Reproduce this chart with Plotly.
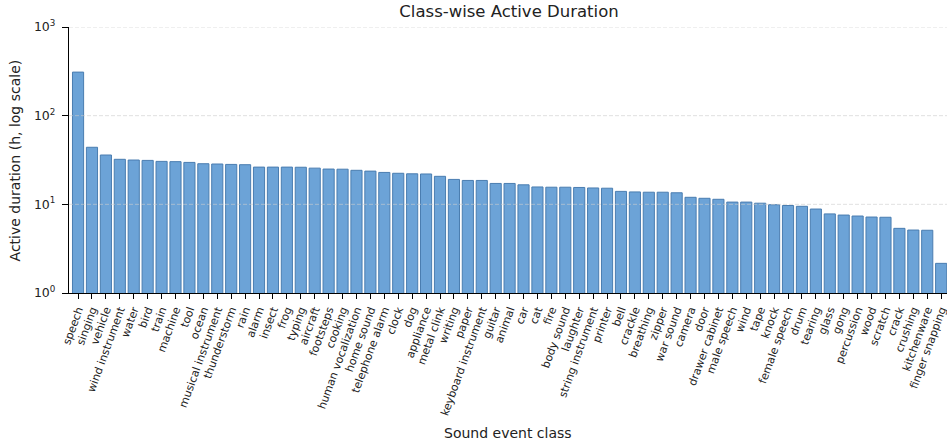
import plotly.graph_objects as go

# Sound event classes, sorted by total active duration
classes = [
    "speech", "singing", "vehicle", "wind instrument", "water", "bird", "train",
    "machine", "tool", "ocean", "musical instrument", "thunderstorm", "rain",
    "alarm", "insect", "frog", "typing", "aircraft", "footsteps", "cooking",
    "human vocalization", "home sound", "telephone alarm", "clock", "dog",
    "appliance", "metal clink", "writing", "paper", "keyboard instrument",
    "guitar", "animal", "car", "cat", "fire", "body sound", "laughter",
    "string instrument", "printer", "bell", "crackle", "breathing", "zipper",
    "war sound", "camera", "door", "drawer cabinet", "male speech", "wind",
    "tape", "knock", "female speech", "drum", "tearing", "glass", "gong",
    "percussion", "wood", "scratch", "crack", "crushing", "kitchenware",
    "finger snapping",
]

# Active duration per class, in hours
hours = [
    310, 44, 36, 32.2, 31.6, 31.3, 30.5, 30.3, 29.7, 28.7, 28.5, 28.2, 28.0,
    26.3, 26.3, 26.3, 26.2, 25.6, 25.0, 24.9, 24.2, 23.7, 22.9, 22.4, 22.1,
    22.0, 20.7, 19.1, 18.6, 18.6, 17.2, 17.2, 16.6, 15.7, 15.6, 15.6, 15.5,
    15.3, 15.2, 14.0, 13.8, 13.7, 13.7, 13.5, 12.0, 11.7, 11.4, 10.6, 10.6,
    10.3, 9.9, 9.7, 9.5, 8.85, 7.8, 7.57, 7.38, 7.19, 7.15, 5.36, 5.13, 5.1,
    2.16,
]

y_tick_vals = [1, 10, 100, 1000]
y_tick_text = ["10<sup>0</sup>", "10<sup>1</sup>", "10<sup>2</sup>", "10<sup>3</sup>"]

FONT = "DejaVu Sans"
TEXT = "#222222"

fig = go.Figure(
    go.Bar(
        x=classes,
        y=hours,
        width=0.8,
        marker=dict(color="#6ca3d7", line=dict(color="#4a7db0", width=1)),
    )
)

# dashed decade gridlines drawn on top of the bars
for v in y_tick_vals[1:]:
    fig.add_shape(
        type="line", layer="above",
        xref="paper", x0=0, x1=1,
        yref="y", y0=v, y1=v,
        line=dict(color="rgba(205,205,205,0.6)", width=1, dash="4px,2px"),
    )

fig.update_layout(
    width=947,
    height=445,
    margin=dict(l=69, r=0, t=27, b=152),
    paper_bgcolor="white",
    plot_bgcolor="white",
    showlegend=False,
    font=dict(family=FONT, color=TEXT),
    title=dict(
        text="Class-wise Active Duration",
        x=0.5375, xanchor="center",
        y=0.975, yanchor="middle",
        font=dict(family=FONT, size=16.5, color=TEXT),
    ),
    bargap=0.2,
)

fig.update_xaxes(
    type="category",
    range=[-0.65, 62.42],
    showline=True, linecolor="black", linewidth=1.2,
    ticks="outside", ticklen=5, tickwidth=1.2, tickcolor="black",
    tickangle=-70,
    tickfont=dict(family=FONT, size=11, color=TEXT),
    showgrid=False,
    automargin=False,
)

fig.update_yaxes(
    type="log",
    range=[0, 3],
    tickvals=y_tick_vals,
    ticktext=y_tick_text,
    showline=True, linecolor="black", linewidth=1.2,
    ticks="outside", ticklen=6, tickwidth=1.2, tickcolor="black",
    ticklabelstandoff=4,
    tickfont=dict(family=FONT, size=12.5, color=TEXT),
    showgrid=False,
    zeroline=False,
    automargin=False,
)

fig.add_annotation(
    text="Sound event class",
    xref="paper", yref="paper",
    x=0.5, y=-0.526, xanchor="center", yanchor="middle",
    showarrow=False,
    font=dict(family=FONT, size=14, color=TEXT),
)
fig.add_annotation(
    text="Active duration (h, log scale)",
    xref="paper", yref="paper",
    x=-0.061, y=0.5, xanchor="center", yanchor="middle",
    textangle=-90,
    showarrow=False,
    font=dict(family=FONT, size=14, color=TEXT),
)

fig.write_html("out.html")
